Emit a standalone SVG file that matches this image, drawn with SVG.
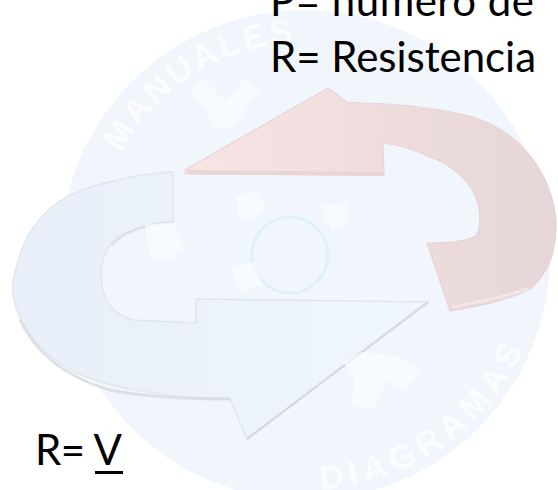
<svg xmlns="http://www.w3.org/2000/svg" width="558" height="490" viewBox="0 0 558 490">
  <defs>
    <style>
      .txt { font-family: Lato, "Open Sans", "Liberation Sans", sans-serif; fill: #000; }
      .mark { font-family: "Liberation Sans", Arial, sans-serif; font-weight: bold; font-size: 34px; fill: #fafcff; letter-spacing: 3px; }
      .flake { fill: #fafcff; opacity: 0.7; }
    </style>
    <linearGradient id="redFill" x1="185" y1="0" x2="556" y2="0" gradientUnits="userSpaceOnUse">
      <stop offset="0" stop-color="#f9e4e4"/>
      <stop offset="0.5" stop-color="#efdddd"/>
      <stop offset="1" stop-color="#e6d6d7"/>
    </linearGradient>
    <linearGradient id="blueFill" x1="10" y1="0" x2="430" y2="0" gradientUnits="userSpaceOnUse">
      <stop offset="0" stop-color="#e8eff8"/>
      <stop offset="1" stop-color="#eff6fd"/>
    </linearGradient>
    <path id="arcTop" d="M 121.1,153.3 A 208 208 0 0 1 409,70"/>
    <path id="arcBottom" d="M 296.6,489.9 A 240 240 0 0 0 536.8,312.1"/>
  </defs>

  <rect width="558" height="490" fill="#ffffff"/>

  <!-- faint round emblem in the background -->
  <g id="emblem">
    <circle cx="305" cy="255" r="245" fill="#f1f6fc"/>
    <text class="mark"><textPath href="#arcTop" startOffset="0">MANUALES</textPath></text>
    <text class="mark" style="letter-spacing:6px"><textPath href="#arcBottom" startOffset="24">DIAGRAMAS</textPath></text>
  </g>

  <!-- left cycle arrow -->
  <g id="arrow-blue">
    <path d="M173,172 C150,173 100,180 67,197 C40,211 20,240 13,282 C10,310 30,345 67,368 C100,388 170,398 230,399 L247,439 L428,302 L196,299 L196,323 L133,320 C115,315 105,305 102,285 C98,262 108,240 125,233 C140,227 160,223 173,222 Z"
          fill="url(#blueFill)" stroke="#e0e6ee" stroke-width="1.5"/>
    <path d="M20,320 C35,350 60,375 110,390 C150,398 200,399 230,399" fill="none" stroke="#d6dbe2" stroke-width="3" opacity="0.8"/>
    <path d="M247,439 L428,302" fill="none" stroke="#d6dbe2" stroke-width="2.5"/>
    <path d="M173,222 C150,224 125,230 112,245" fill="none" stroke="#d8dce3" stroke-width="2.5" opacity="0.8"/>
  </g>

  <!-- emblem details showing over the light arrow -->
  <g id="emblem-flake">
    <circle cx="290" cy="255" r="38" fill="none" stroke="#e0f0f9" stroke-width="3"/>
    <path class="flake" d="M203,78 L225,102 L246,77 L259,90 L233,128 L217,128 L191,91 Z"/>
    <path class="flake" d="M362,352 L398,356 L420,372 L405,392 L388,380 L372,410 L350,405 L355,378 L343,362 Z"/>
    <path class="flake" d="M145,225 L175,222 L185,250 L165,262 L150,255 Z"/>
    <path class="flake" d="M236,196 L258,190 L266,208 L252,222 L238,214 Z"/>
    <path class="flake" d="M320,206 L345,202 L350,222 L332,232 Z"/>
    <path class="flake" d="M230,268 L255,262 L262,285 L240,292 Z"/>
  </g>

  <!-- right cycle arrow -->
  <g id="arrow-red">
    <path d="M185,170 L328,88 L347,102 L363,103 C400,104 440,108 473,117 C500,126 520,140 537,165 C550,185 557,210 556,230 C555,255 548,272 532,288 C510,300 480,306 450,311 L427,243 C445,243 465,242 476,236 C482,225 481,208 474,193 C466,178 448,163 430,157 C415,150 400,145 383,143 L384,175 L185,174 Z"
          fill="url(#redFill)" stroke="#e6d5d6" stroke-width="1.2"/>
    <path d="M187,172 L383,174" fill="none" stroke="#e8d4d5" stroke-width="4"/>
    <path d="M452,307 C480,302 510,296 528,288" fill="none" stroke="#f5e5e5" stroke-width="3"/>
  </g>

  <!-- formula text -->
  <g id="formula-top">
    <text class="txt" x="270" y="16" font-size="42" textLength="264">P= número de</text>
    <text class="txt" x="270" y="72" font-size="42" textLength="266">R= Resistencia</text>
  </g>
  <g id="formula-bottom">
    <text class="txt" x="35" y="465" font-size="42" textLength="87">R= V</text>
    <rect x="95" y="471" width="28" height="3" fill="#000"/>
  </g>
</svg>
